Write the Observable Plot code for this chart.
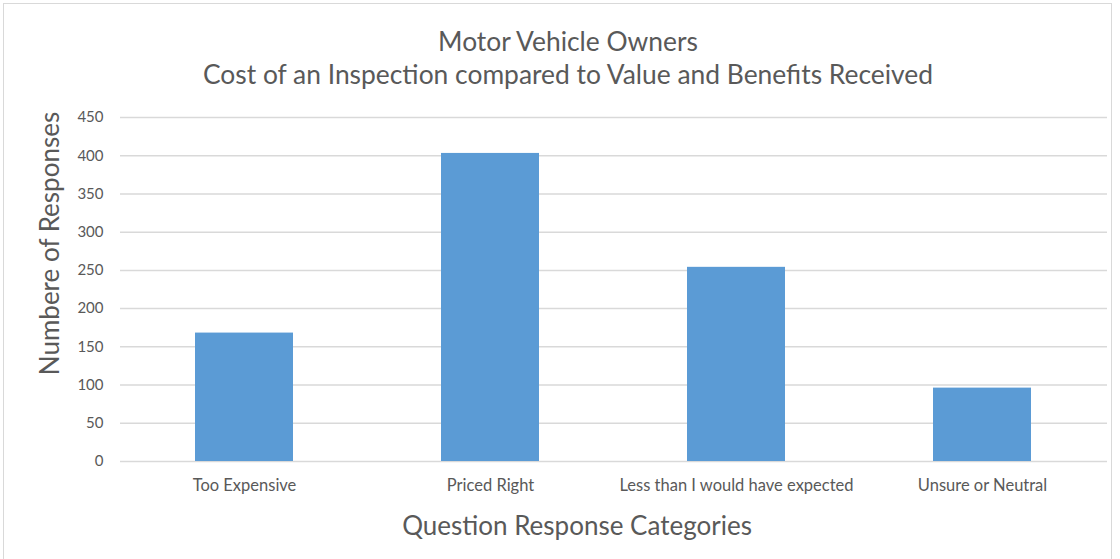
<!DOCTYPE html>
<html>
<head>
<meta charset="utf-8">
<script src="https://cdn.jsdelivr.net/npm/d3@7"></script>
<script src="https://cdn.jsdelivr.net/npm/@observablehq/plot@0.6"></script>
<style>
  html, body { margin: 0; padding: 0; background: #fff; }
  #wrap { position: relative; width: 1120px; height: 559px; overflow: hidden; font-family: Lato, "Open Sans", sans-serif; }
  #frame { position: absolute; left: 3px; top: 3px; width: 1109px; height: 560px; border: 1px solid #d9d9d9; box-sizing: border-box; }
  .title { position: absolute; left: 0; width: 1136px; text-align: center; color: #595959; font-size: 26.4px; line-height: 1; }
  #chart { position: absolute; left: 0; top: 0; }
</style>
</head>
<body>
<div id="wrap">
  <div id="frame"></div>
  <div class="title" style="top:28px">Motor Vehicle Owners</div>
  <div class="title" style="top:61px">Cost of an Inspection compared to Value and Benefits Received</div>
  <div id="chart"></div>
</div>
<script>
const categories = ["Too Expensive", "Priced Right", "Less than I would have expected", "Unsure or Neutral"];
const responses = [168, 403, 254, 96];
const yTicks = [0, 50, 100, 150, 200, 250, 300, 350, 400, 450];
const xTitle = "Question Response Categories";
const yTitle = "Numbere of Responses";

const data = categories.map((c, i) => ({category: c, value: responses[i]}));

const plot = Plot.plot({
  width: 1120,
  height: 559,
  marginTop: 117,
  marginBottom: 98,
  marginLeft: 120,
  marginRight: 13,
  style: {fontFamily: "Lato, 'Open Sans', sans-serif", background: "transparent", overflow: "visible"},
  x: {domain: categories, paddingInner: 0.6, paddingOuter: 0.3, label: null},
  y: {domain: [0, 450], ticks: yTicks, label: null},
  marks: [
    Plot.gridY(yTicks, {stroke: "#d9d9d9", strokeOpacity: 1, strokeWidth: 1.5}),
    Plot.barY(data, {x: "category", y: "value", fill: "#5b9bd5"}),
    Plot.axisY(yTicks, {tickSize: 0, tickPadding: 17, fontSize: 15, fill: "#595959", label: null}),
    Plot.axisX(categories, {tickSize: 0, tickPadding: 18, fontSize: 16.5, fill: "#595959", label: null}),
    Plot.text([xTitle], {frameAnchor: "bottom", dy: 73, dx: -37, fontSize: 26, fill: "#595959"}),
    Plot.text([yTitle], {frameAnchor: "left", textAnchor: "middle", dx: -70, dy: -46, rotate: -90, fontSize: 26, fill: "#595959"})
  ]
});
document.getElementById("chart").appendChild(plot);
</script>
</body>
</html>
